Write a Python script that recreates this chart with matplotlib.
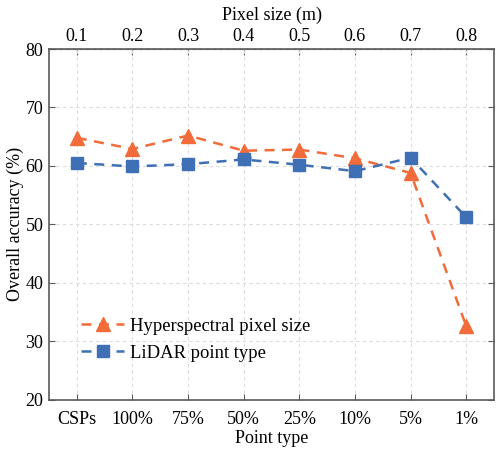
import numpy as np
import matplotlib.pyplot as plt

plt.rcParams['font.family'] = ['Liberation Serif', 'DejaVu Serif']
plt.rcParams['font.size'] = 13

point_types = ['CSPs', '100%', '75%', '50%', '25%', '10%', '5%', '1%']
pixel_sizes = ['0.1', '0.2', '0.3', '0.4', '0.5', '0.6', '0.7', '0.8']
hyper_acc = [64.8, 62.9, 65.2, 62.6, 62.8, 61.3, 58.8, 32.6]
lidar_acc = [60.5, 59.9, 60.3, 61.1, 60.2, 59.1, 61.4, 51.2]

orange = '#f26b3a'
blue = '#3f6fb5'
spine_c = '#5a5a5a'

fig, ax = plt.subplots(figsize=(5, 4.5), dpi=100)
fig.subplots_adjust(left=0.098, right=0.988, top=0.891, bottom=0.112)

x = np.arange(len(point_types))
ax.plot(x, hyper_acc, ls='--', color=orange, marker='^', ms=10, lw=1.8,
        dashes=(4, 3), label='Hyperspectral pixel size')
ax.plot(x, lidar_acc, ls='--', color=blue, marker='s', ms=8, lw=1.8,
        dashes=(4, 3), label='LiDAR point type')

ax.set_xlim(-0.5, 7.5)
ax.set_ylim(20, 80)
ax.set_xticks(x)
ax.set_xticklabels(point_types)
ax.set_yticks([20, 30, 40, 50, 60, 70, 80])
ax.grid(True, ls=(0, (3, 3)), color='#dcdcdc', lw=0.8)
ax.set_axisbelow(True)
ax.tick_params(direction='in', right=True, length=4, color=spine_c, pad=8)
ax.tick_params(axis='y', pad=4)
for s in ax.spines.values():
    s.set_color(spine_c)
    s.set_linewidth(1.2)
ax.set_xlabel('Point type', labelpad=2)
ax.set_ylabel('Overall accuracy (%)', labelpad=1)

top = ax.secondary_xaxis('top')
top.set_xticks(x)
top.set_xticklabels(pixel_sizes)
top.tick_params(direction='in', length=4, color=spine_c, pad=3)
top.set_xlabel('Pixel size (m)', labelpad=6)
top.spines['top'].set_color(spine_c)

ax.legend(loc='lower left', bbox_to_anchor=(0.035, 0.06), frameon=False,
          handlelength=2.3, handletextpad=0.3, labelspacing=0.55, fontsize=13.4)

plt.savefig('out.png', dpi=100)
